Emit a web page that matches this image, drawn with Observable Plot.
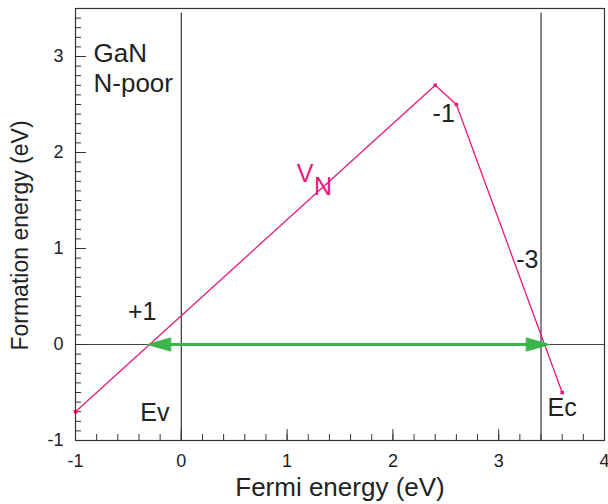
<!DOCTYPE html>
<html><head><meta charset="utf-8">
<script src="https://cdn.jsdelivr.net/npm/d3@7"></script>
<script src="https://cdn.jsdelivr.net/npm/@observablehq/plot@0.6"></script>
<style>
body{margin:0;background:#fff}
#chart svg{font-family:"Liberation Sans",Arial,Helvetica,sans-serif}
</style>
</head><body><div id="chart"></div>
<script>
// Formation energy of V_N vs Fermi level (vertices of the piecewise line)
const fermi = [-1, 2.4, 2.6, 3.6];
const formation = [-0.7, 2.7, 2.5, -0.5];
// band edges Ev, Ec and their top
const bandEdges = [0, 3.4];
const bandTop = 3.45;
// green double arrow tips (x positions, at y = 0)
const arrowTips = [-0.32, 3.48];
// ticks
const xMajor = [-1, 0, 1, 2, 3, 4];
const yMajor = [-1, 0, 1, 2, 3];
const xMinor = d3.ticks(-1, 4, 25);
const yMinor = d3.ticks(-1, 3.5, 45);
// annotations
const titleText = ["GaN", "N-poor"];
const titleX = [-0.83, -0.83];
const titleY = [3.03, 2.72];
const noteText = ["-1", "-3", "+1", "Ev", "Ec"];
const noteX = [2.48, 3.27, -0.37, -0.25, 3.6];
const noteY = [2.4, 0.88, 0.34, -0.71, -0.66];
const labelV = {text: "V", x: 1.17, y: 1.78};
const labelN = {text: "N", x: 1.34, y: 1.64};

const magenta = "#e8197d";
const green = "#3ab54a";
const ink = "#222";

const pts = fermi.map((x, i) => ({x, y: formation[i]}));
const titles = titleText.map((t, i) => ({t, x: titleX[i], y: titleY[i]}));
const notes = noteText.map((t, i) => ({t, x: noteX[i], y: noteY[i]}));

const head = {
  draw(ctx, l) {
    ctx.moveTo(-6.5, 0);
    ctx.lineTo(0, -l);
    ctx.lineTo(6.5, 0);
    ctx.closePath();
  }
};

const W = 608, H = 504, mL = 75, mR = 4, mT = 8, mB = 64;
const iw = W - mL - mR, ih = H - mT - mB;

const chart = Plot.plot({
  width: W, height: H,
  marginLeft: mL, marginRight: mR, marginTop: mT, marginBottom: mB,
  style: {fontFamily: '"Liberation Sans",Arial,sans-serif', fontSize: "18px", color: ink, background: "#fff"},
  x: {domain: [-1, 4]},
  y: {domain: [-1, 3.5]},
  marks: [
    Plot.ruleY([0], {stroke: "#444", strokeWidth: 1}),
    Plot.ruleX(bandEdges, {y1: -1, y2: bandTop, stroke: "#333", strokeWidth: 1.2}),
    Plot.tickX(xMinor, {x: d => d, insetTop: ih - 6, stroke: "#333"}),
    Plot.tickX(xMajor, {x: d => d, insetTop: ih - 11, stroke: "#333"}),
    Plot.tickY(yMinor, {y: d => d, insetRight: iw - 6, stroke: "#333"}),
    Plot.tickY(yMajor, {y: d => d, insetRight: iw - 11, stroke: "#333"}),
    Plot.axisX({ticks: xMajor, tickFormat: d => String(d), tickSize: 0, tickPadding: 14, fontSize: 18, label: null}),
    Plot.axisY({ticks: yMajor, tickFormat: d => String(d), tickSize: 0, tickPadding: 12, fontSize: 18, label: null}),
    Plot.line(pts, {x: "x", y: "y", stroke: magenta, strokeWidth: 1.3}),
    Plot.dot(pts, {x: "x", y: "y", symbol: "square", r: 2, fill: magenta}),
    Plot.ruleY([0], {x1: arrowTips[0], x2: arrowTips[1], insetLeft: 14, insetRight: 14, stroke: green, strokeWidth: 3}),
    Plot.vector(arrowTips, {x: d => d, y: 0, length: 23, rotate: (d, i) => i === 0 ? -90 : 90, anchor: "end", shape: head, fill: green, stroke: green, strokeWidth: 1}),
    Plot.text(titles, {x: "x", y: "y", text: "t", textAnchor: "start", fontSize: 26, fill: ink}),
    Plot.text(notes, {x: "x", y: "y", text: "t", textAnchor: "middle", fontSize: 25, fill: ink}),
    Plot.text([labelV], {x: "x", y: "y", text: "text", fontSize: 25, fill: magenta}),
    Plot.text([labelN], {x: "x", y: "y", text: "text", fontSize: 25, fill: magenta}),
    Plot.text(["Fermi energy (eV)"], {frameAnchor: "bottom", dy: 55, fontSize: 26, fill: ink}),
    Plot.text(["Formation energy (eV)"], {frameAnchor: "left", textAnchor: "middle", dx: -55, dy: 11, rotate: -90, fontSize: 23, fill: ink}),
    Plot.frame({stroke: "#333", strokeWidth: 1.2})
  ]
});
document.getElementById("chart").append(chart);
</script>
</body></html>
